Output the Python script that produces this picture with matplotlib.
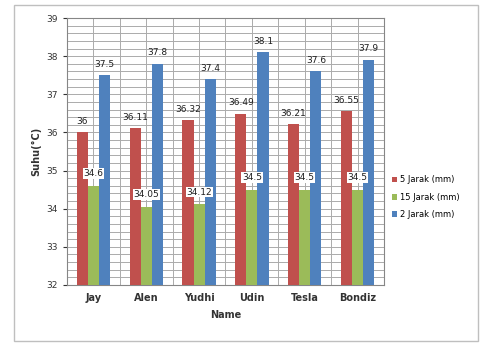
import matplotlib
matplotlib.use('Agg')
import matplotlib.pyplot as plt
import numpy as np
from matplotlib.patches import Rectangle

names = ['Jay', 'Alen', 'Yudhi', 'Udin', 'Tesla', 'Bondiz']
jarak5 = [36, 36.11, 36.32, 36.49, 36.21, 36.55]
jarak15 = [34.6, 34.05, 34.12, 34.5, 34.5, 34.5]
jarak2 = [37.5, 37.8, 37.4, 38.1, 37.6, 37.9]
lab5 = ['36', '36.11', '36.32', '36.49', '36.21', '36.55']
lab15 = ['34.6', '34.05', '34.12', '34.5', '34.5', '34.5']
lab2 = ['37.5', '37.8', '37.4', '38.1', '37.6', '37.9']
series = ['5 Jarak (mm)', '15 Jarak (mm)', '2 Jarak (mm)']
colors = ['#C0504D', '#9BBB59', '#4F81BD']

fig = plt.figure(figsize=(4.8, 3.46), dpi=100)
fig.patches.append(Rectangle((14/480, 5/346), 464/480, 336/346, transform=fig.transFigure,
                             fill=False, ec='#BFBFBF', lw=1))
ax = fig.add_axes([67/480, 61/346, 317/480, 267/346])

x = np.arange(len(names))
w = 0.21
vals = [jarak5, jarak15, jarak2]
labs = [lab5, lab15, lab2]
for i in range(3):
    bars = ax.bar(x + (i-1)*w, np.array(vals[i]) - 32, w, bottom=32, color=colors[i],
                  label=series[i], zorder=3)
    for b, t in zip(bars, labs[i]):
        if i == 1:
            ax.text(b.get_x()+w/2, b.get_y()+b.get_height()+0.2, t, ha='center', va='bottom',
                    fontsize=6.5, color='#1F1F1F', zorder=4,
                    bbox=dict(fc='white', ec='none', pad=0.5))
        else:
            ax.text(b.get_x()+w/2, b.get_y()+b.get_height()+0.17, t, ha='center', va='bottom',
                    fontsize=6.5, color='#1F1F1F', zorder=4)

ax.set_ylim(32, 39)
ax.set_xlim(-0.5, 5.5)
ax.set_yticks(np.arange(32, 40))
ax.set_yticks(np.arange(32, 39.01, 0.2), minor=True)
ax.set_xticks(x)
ax.set_xticklabels(names, fontsize=7, fontweight='bold', color='#333333')
ax.set_xticks(np.arange(-0.5, 6, 0.5), minor=True)
ax.tick_params(axis='y', labelsize=6.5, colors='#333333', length=3)
ax.tick_params(axis='x', length=0, pad=6)
ax.tick_params(which='minor', length=0)
ax.grid(which='both', color='#ABABAB', lw=0.7, zorder=0)
for s in ax.spines.values():
    s.set_color('#868686')
ax.set_xlabel('Name', fontsize=7, fontweight='bold', color='#333333', labelpad=5)
ax.set_ylabel('Suhu(°C)', fontsize=7, fontweight='bold', color='#333333', labelpad=4)

fig.legend(loc='center left', bbox_to_anchor=(384/480, 0.43), frameon=False, fontsize=6,
           handlelength=0.7, handleheight=0.7, handletextpad=0.3, labelspacing=1.0)

fig.savefig('out.png', dpi=100)
